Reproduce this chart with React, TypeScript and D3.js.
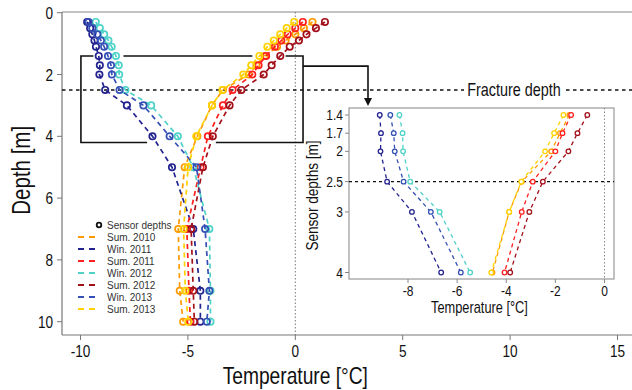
import React from "react";
import * as d3 from "d3";

// sensor depths in metres
const depths = [0.3, 0.5, 0.7, 0.9, 1.1, 1.4, 1.7, 2.0, 2.5, 3.0, 4.0, 5.0, 7.0, 9.0, 10.0];

// temperature profiles [°C], one value per sensor depth
const sum2010 = [0.8, 0.4, 0.0, -0.45, -0.85, -1.43, -1.81, -2.17, -3.37, -3.88, -4.56, -5.15, -5.45, -5.38, -5.22];
const win2011 = [-9.69, -9.55, -9.45, -9.35, -9.28, -9.15, -9.1, -9.12, -8.85, -7.84, -6.65, -5.74, -4.75, -4.42, -4.42];
const sum2011 = [0.35, 0.0, -0.35, -0.65, -0.95, -1.36, -1.71, -2.0, -2.92, -3.37, -4.07, -4.41, -5.05, -4.95, -4.88];
const win2012 = [-9.29, -9.1, -8.9, -8.7, -8.55, -8.35, -8.22, -8.2, -7.91, -6.71, -5.47, -4.75, -4.0, -3.95, -3.95];
const sum2012 = [1.38, 0.96, 0.52, 0.17, -0.26, -0.7, -1.1, -1.47, -2.51, -3.06, -3.84, -4.3, -4.85, -4.75, -4.7];
const win2013 = [-9.62, -9.45, -9.22, -9.05, -8.9, -8.72, -8.58, -8.54, -8.18, -7.07, -5.85, -4.6, -4.2, -4.0, -4.12];
const sum2013 = [-0.05, -0.4, -0.7, -1.0, -1.3, -1.67, -2.05, -2.42, -3.39, -3.88, -4.61, -4.99, -5.2, -5.12, -4.98];

const seriesNames = ["Sum. 2010", "Win. 2011", "Sum. 2011", "Win. 2012", "Sum. 2012", "Win. 2013", "Sum. 2013"];
const seriesValues = [sum2010, win2011, sum2011, win2012, sum2012, win2013, sum2013];
const seriesColors = ["#ff9a00", "#23238f", "#ff1f1f", "#4fd2c8", "#a3101a", "#3550b5", "#ffd200"];

const xTicks = [-10, -5, 0, 5, 10, 15];
const yTicks = [0, 2, 4, 6, 8, 10];
const insetXTicks = [-8, -6, -4, -2, 0];
const insetYTicks = [1.4, 1.7, 2, 2.5, 3, 4];
const fractureDepth = 2.5;
// zoom box in data units: [tMin, tMax, dTop, dBottom]
const zoomBox = [-9.98, 0.36, 1.4, 4.2];

const sans = "'Liberation Sans', Arial, sans-serif";

// narrow text: the reference uses a condensed face, so squeeze a regular one
function T({ x, y, size, anchor = "start", rot = 0, sx = 0.8, children }: any) {
  return (
    <text
      transform={`translate(${x},${y}) rotate(${rot}) scale(${sx},1)`}
      textAnchor={anchor}
      fontFamily={sans}
      fontSize={size}
      fill="#111"
    >
      {children}
    </text>
  );
}

export default function App() {
  const W = 632, H = 390;
  const plot = { left: 62, right: 632, top: 12, bottom: 335 };
  const x = d3.scaleLinear().domain([-10, 15]).range([80.5, 617.5]);
  const y = d3.scaleLinear().domain([0, 10]).range([12.7, 321.7]);

  const inset = { left: 349, right: 614, top: 108, bottom: 279 };
  const ix = d3.scaleLinear().domain([-8, 0]).range([408, 604.5]);
  const iy = d3.scaleLinear().domain([1.4, 4]).range([115, 272.5]);

  const rows = seriesNames.map((name, i) => ({
    name,
    color: seriesColors[i],
    pts: depths.map((d, j) => ({ d, t: seriesValues[i][j] })),
  }));

  const line = d3.line<{ d: number; t: number }>().x((p) => x(p.t)).y((p) => y(p.d));
  const iline = d3.line<{ d: number; t: number }>().x((p) => ix(p.t)).y((p) => iy(p.d));

  const [bx0, bx1, by0, by1] = zoomBox;
  const fy = y(fractureDepth);
  const connY = y(1.73);
  const arrowX = 368;

  return (
    <svg width={W} height={H} style={{ display: "block", position: "absolute", left: 0, top: 0 }}>
      <rect width={W} height={H} fill="#fff" />
      {/* frame */}
      <line x1={plot.left} x2={plot.right} y1={plot.top} y2={plot.top} stroke="#888" strokeWidth={1.2} />
      <line x1={plot.left} x2={plot.right} y1={plot.bottom} y2={plot.bottom} stroke="#777" strokeWidth={1.2} />
      <line x1={plot.left} x2={plot.left} y1={plot.top} y2={plot.bottom} stroke="#777" strokeWidth={1.2} />
      {/* zero line */}
      <line x1={x(0)} x2={x(0)} y1={plot.top} y2={plot.bottom} stroke="#777" strokeWidth={1} strokeDasharray="1.5,2" />

      {/* axes */}
      {xTicks.map((t) => (
        <g key={t}>
          <line x1={x(t)} x2={x(t)} y1={plot.bottom} y2={plot.bottom + 5} stroke="#777" />
          <T x={x(t)} y={plot.bottom + 22} size={17} anchor="middle">{t}</T>
        </g>
      ))}
      {yTicks.map((t) => (
        <g key={t}>
          <line x1={plot.left - 5} x2={plot.left} y1={y(t)} y2={y(t)} stroke="#777" />
          <T x={plot.left - 9} y={y(t) + 6} size={17} anchor="end">{t}</T>
        </g>
      ))}
      <T x={x(0)} y={384} size={24} anchor="middle">Temperature [°C]</T>
      <T x={30} y={y(5.1)} size={25} anchor="middle" rot={-90} sx={0.82}>Depth [m]</T>

      {/* fracture depth */}
      <line x1={plot.left} x2={464} y1={fy} y2={fy} stroke="#111" strokeWidth={1.6} strokeDasharray="3.5,3.5" />
      <line x1={566} x2={plot.right} y1={fy} y2={fy} stroke="#111" strokeWidth={1.6} strokeDasharray="3.5,3.5" />
      <T x={514} y={fy + 6} size={18} anchor="middle">Fracture depth</T>

      {/* zoom box + connector */}
      <path
        d={`M${x(-9.4)},${y(by0)}H${x(bx0)}V${y(by1)}H${x(-6.9)}M${x(-3.7)},${y(by1)}H${x(bx1)}V${y(by0)}H${x(-0.45)}M${x(-2.0)},${y(by0)}H${x(-8.0)}`}
        fill="none" stroke="#111" strokeWidth={1.6}
      />
      <path d={`M${x(bx1)},${connY}H${arrowX}V${inset.top - 8}`} fill="none" stroke="#111" strokeWidth={1.6} />
      <path d={`M${arrowX - 4},${inset.top - 10}L${arrowX + 4},${inset.top - 10}L${arrowX},${inset.top - 2}Z`} fill="#111" />

      {/* main series */}
      {rows.map((r) => (
        <g key={r.name}>
          <path d={line(r.pts) || ""} fill="none" stroke={r.color} strokeWidth={1.7} strokeDasharray="5,4" />
          {r.pts.map((p, j) => (
            <circle key={j} cx={x(p.t)} cy={y(p.d)} r={3.2} fill="none" stroke={r.color} strokeWidth={1.7} />
          ))}
        </g>
      ))}

      {/* legend */}
      <g fontFamily={sans} fontSize={10} fill="#333">
        <circle cx={99} cy={225} r={2.3} fill="none" stroke="#111" strokeWidth={1.8} />
        <text x={107} y={229}>Sensor depths</text>
        {rows.map((r, i) => (
          <g key={r.name} transform={`translate(0,${237 + i * 12})`}>
            <line x1={78} x2={95} y1={0} y2={0} stroke={r.color} strokeWidth={1.8} strokeDasharray="6,5" />
            <text x={107} y={4}>{r.name}</text>
          </g>
        ))}
      </g>

      {/* inset */}
      <rect x={inset.left} y={inset.top} width={inset.right - inset.left} height={inset.bottom - inset.top} fill="#fff" stroke="#999" strokeWidth={1.2} />
      <line x1={ix(0)} x2={ix(0)} y1={inset.top} y2={inset.bottom} stroke="#888" strokeWidth={1} strokeDasharray="1.5,2" />
      <line x1={inset.left} x2={inset.right} y1={iy(fractureDepth)} y2={iy(fractureDepth)} stroke="#111" strokeWidth={1.4} strokeDasharray="3,3" />
      {insetXTicks.map((t) => (
        <g key={t}>
          <line x1={ix(t)} x2={ix(t)} y1={inset.bottom} y2={inset.bottom + 4} stroke="#888" />
          <T x={ix(t)} y={inset.bottom + 17} size={15} anchor="middle">{t}</T>
        </g>
      ))}
      {insetYTicks.map((t) => (
        <g key={t}>
          <line x1={inset.left - 4} x2={inset.left} y1={iy(t)} y2={iy(t)} stroke="#888" />
          <T x={inset.left - 6} y={iy(t) + 5} size={15} anchor="end">{t}</T>
        </g>
      ))}
      <T x={(inset.left + inset.right) / 2 - 2} y={inset.bottom + 34} size={16} anchor="middle">Temperature [°C]</T>
      <T x={318} y={(inset.top + inset.bottom) / 2 + 2} size={17} anchor="middle" rot={-90}>Sensor depths [m]</T>
      {rows.map((r) => {
        const pts = r.pts.filter((p) => p.d >= 1.4 && p.d <= 4);
        return (
          <g key={r.name}>
            <path d={iline(pts) || ""} fill="none" stroke={r.color} strokeWidth={1.3} strokeDasharray="4,3.5" />
            {pts.map((p, j) => (
              <circle key={j} cx={ix(p.t)} cy={iy(p.d)} r={2.3} fill="#fff" stroke={r.color} strokeWidth={1.3} />
            ))}
          </g>
        );
      })}
    </svg>
  );
}
